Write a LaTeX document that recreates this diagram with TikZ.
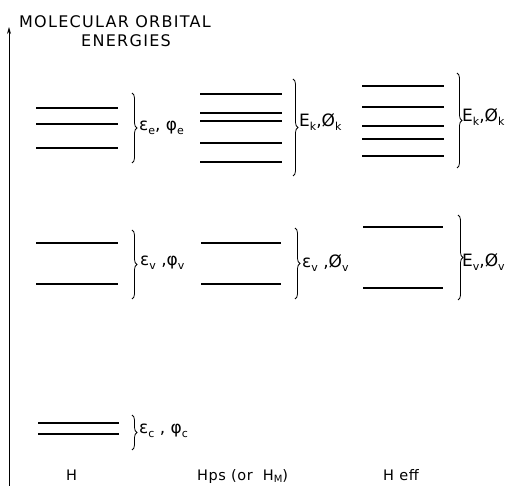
\documentclass[tikz,border=0pt]{standalone}
\usepackage{fontspec}
\setmainfont{DejaVu Sans}
\usetikzlibrary{decorations.pathreplacing,arrows.meta}
\newcommand{\lsub}[1]{\raisebox{-3.5pt}{\fontsize{11}{11}\selectfont #1}}
\newcommand{\bsub}[1]{\raisebox{-2.5pt}{\fontsize{10}{10}\selectfont #1}}
\begin{document}
\begin{tikzpicture}[x=1pt,y=-1pt,
  lvl/.style={line width=1.3pt},
  br/.style={decorate,decoration={brace,amplitude=5pt},line width=0.8pt},
  lab/.style={anchor=west,inner sep=0pt,font=\fontsize{17}{17}\selectfont},
  bot/.style={anchor=base west,inner sep=0pt,font=\fontsize{14.5}{14.5}\selectfont\addfontfeature{LetterSpace=4}},
  ttl/.style={inner sep=0pt,font=\fontsize{16}{16}\selectfont\addfontfeature{LetterSpace=8}}]
\useasboundingbox (0,0) rectangle (509,486);
% axis
\coordinate (ax0) at (9,486);
\coordinate (ax1) at (9,27);
\draw[line width=0.9pt,-{Stealth[length=7pt,width=4pt]}] (ax0) -- (ax1);
\node[ttl] (t1) at (115,22) {MOLECULAR ORBITAL};
\node[ttl] (t2) at (126,41) {ENERGIES};
% H column
\foreach \y in {108,124,148} \draw[lvl] (36,\y) -- (118,\y);
\draw[br] (132,93) -- (132,163);
\node[lab] (He) at (139,128) {ε\lsub{e}, φ\lsub{e}};
\foreach \y in {243,284} \draw[lvl] (36,\y) -- (118,\y);
\draw[br] (132,230) -- (132,299);
\node[lab] (Hv) at (140,263) {ε\lsub{v} ,φ\lsub{v}};
\foreach \y in {423,434} \draw[lvl] (38,\y) -- (119,\y);
\draw[br] (132,415) -- (132,450);
\node[lab] (Hc) at (139,431) {ε\lsub{c} , φ\lsub{c}};
% Hps column
\foreach \y in {94,113,121,143,162} \draw[lvl] (200,\y) -- (282,\y);
\draw[br] (293,79) -- (293,176);
\node[lab] (Pk) at (299,122) {E\lsub{k},Ø\lsub{k}};
\foreach \y in {243,284} \draw[lvl] (201,\y) -- (281,\y);
\draw[br] (295,228) -- (295,299);
\node[lab] (Pv) at (302,263) {ε\lsub{v} ,Ø\lsub{v}};
% Heff column
\foreach \y in {86,107,126,139,156} \draw[lvl] (362,\y) -- (444,\y);
\draw[br] (457,73) -- (457,168);
\node[lab] (Ek) at (462,117) {E\lsub{k},Ø\lsub{k}};
\foreach \y in {227,288} \draw[lvl] (363,\y) -- (443,\y);
\draw[br] (458,215) -- (458,300);
\node[lab] (Ev) at (462,262) {E\lsub{v},Ø\lsub{v}};
% bottom labels
\node[bot] (bH) at (66,480) {H};
\node[bot] (bP) at (197,480) {Hps (or\,\, H\bsub{M})};
\node[bot] (bE) at (383,480) {H eff};
\end{tikzpicture}
\end{document}
